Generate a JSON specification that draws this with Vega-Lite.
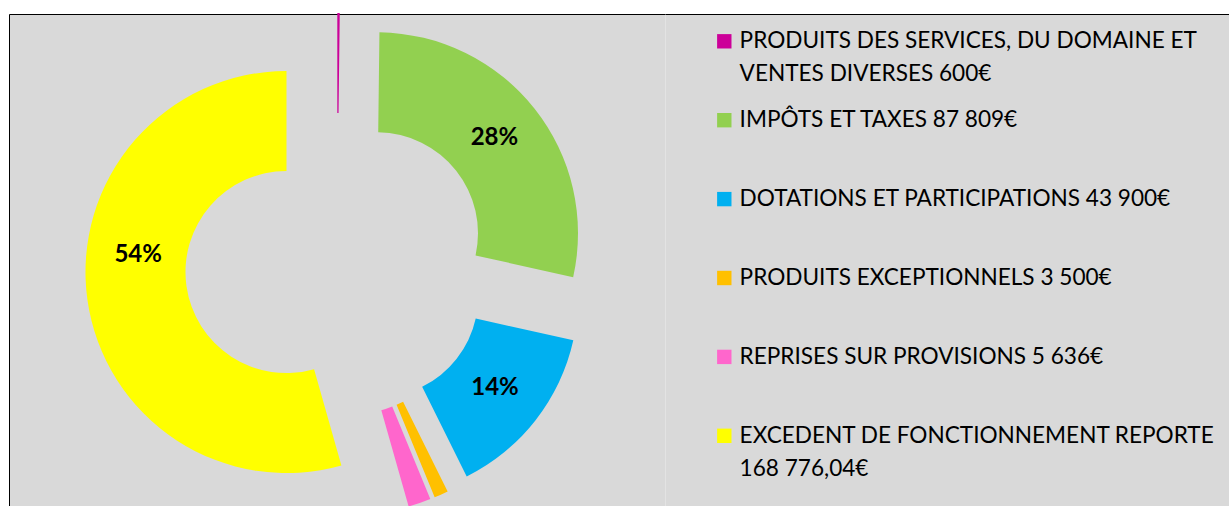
{
  "$schema": "https://vega.github.io/schema/vega-lite/v6.json",
  "background": "white",
  "padding": {"left": 8, "top": 12, "right": 0, "bottom": -9},
  "bounds": "flush",
  "config": {"font": "Lato", "style": {"guide-label": {"lineHeight": 33}}},
  "data": {
    "values": [
      {"label": "PRODUITS DES SERVICES, DU DOMAINE ET\nVENTES DIVERSES 600€", "value": 600, "pct": "", "order": 1},
      {"label": "IMPÔTS ET TAXES 87 809€", "value": 87809, "pct": "28%", "order": 2},
      {"label": "DOTATIONS ET PARTICIPATIONS 43 900€", "value": 43900, "pct": "14%", "order": 3},
      {"label": "PRODUITS EXCEPTIONNELS 3 500€", "value": 3500, "pct": "", "order": 4},
      {"label": "REPRISES SUR PROVISIONS 5 636€", "value": 5636, "pct": "", "order": 5},
      {"label": "EXCEDENT DE FONCTIONNEMENT REPORTE\n168 776,04€", "value": 168776.04, "pct": "54%", "order": 6}
    ]
  },
  "spacing": 0,
  "hconcat": [
    {
      "width": 656,
      "height": 502,
      "view": {"fill": "#d9d9d9", "stroke": "black", "strokeWidth": 1, "strokeDash": [656, 1158, 502, 0]},
      "layer": [
        {
          "mark": {
            "type": "arc",
            "outerRadius": 201,
            "innerRadius": 101,
            "xOffset": {"expr": "51*sin(PI*(datum.value_start+datum.value_end))"},
            "yOffset": {"expr": "-51*cos(PI*(datum.value_start+datum.value_end))"}
          },
          "encoding": {
            "theta": {"field": "value", "type": "quantitative", "stack": "normalize"},
            "order": {"field": "order", "type": "quantitative"},
            "color": {
              "field": "label",
              "type": "nominal",
              "sort": {"field": "order"},
              "scale": {"range": ["#CC0099", "#92D050", "#00B0F0", "#FFC000", "#FF66CC", "#FFFF00"]},
              "legend": {
                "orient": "none",
                "legendX": 704,
                "legendY": 16,
                "title": null,
                "padding": 0,
                "symbolType": "square",
                "symbolSize": 207,
                "symbolStrokeWidth": 0,
                "symbolOpacity": 1,
                "labelFont": "Lato",
                "labelFontSize": 22.6,
                "labelColor": "black",
                "labelBaseline": "middle",
                "labelOffset": 4,
                "labelLimit": 0,
                "gridAlign": "all",
                "rowPadding": 22.9,
                "labelExpr": "split(datum.label, '\\n')"
              }
            }
          }
        },
        {
          "mark": {
            "type": "text",
            "radius": 151,
            "font": "Lato",
            "fontWeight": "bold",
            "fontSize": 24,
            "color": "black",
            "thetaOffset": {"expr": "datum.order == 6 ? 0.235 : 0"},
            "xOffset": {"expr": "51*sin(PI*(datum.value_start+datum.value_end)) + (datum.order == 6 ? 2 : -1)"},
            "yOffset": {"expr": "-51*cos(PI*(datum.value_start+datum.value_end)) - 2"}
          },
          "encoding": {
            "theta": {"field": "value", "type": "quantitative", "stack": "normalize"},
            "order": {"field": "order", "type": "quantitative"},
            "text": {"field": "pct"}
          }
        }
      ]
    },
    {
      "width": 564,
      "height": 502,
      "view": {"fill": "#d9d9d9", "stroke": "black", "strokeWidth": 1, "strokeDash": [564, 100000]},
      "mark": {"type": "point", "opacity": 0}
    }
  ]
}
